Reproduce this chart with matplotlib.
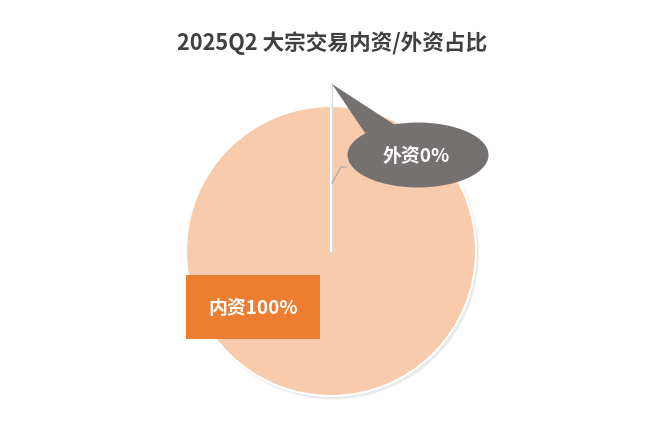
import matplotlib
matplotlib.use("Agg")
import matplotlib.pyplot as plt
from matplotlib.patches import Ellipse, Polygon, Rectangle, Circle

plt.rcParams['font.family'] = ['Noto Sans CJK SC', 'DejaVu Sans']

title = "2025Q2 大宗交易内资/外资占比"
labels = ["内资", "外资"]
shares = [100, 0]
colors = ["#F8CBAD", "#767171"]

fig = plt.figure(figsize=(6.6, 4.26), dpi=100)
ax = fig.add_axes([0, 0, 1, 1])

cx, cy, r = 331, 175, 145

# soft shadow under the pie
for i, a in enumerate([0.05, 0.05, 0.07]):
    ax.add_patch(Circle((cx + 2, cy - 2.5), r + 1.5 - i * 0.7, color="#7f7f7f",
                        alpha=a, zorder=1, lw=0))

wedges, _ = ax.pie(shares, colors=colors, center=(cx, cy), radius=r,
                   startangle=90, counterclock=False, frame=True,
                   wedgeprops=dict(edgecolor="white", linewidth=1.5))
for w in wedges:
    w.set_zorder(2)
ax.set_xlim(0, 660)
ax.set_ylim(0, 426)
ax.set_aspect("auto")
ax.axis("off")

# zero slice edge, pulled out above the pie
ax.plot([cx, cx], [cy, 426 - 84], color="#d9d9d9", lw=2.2, zorder=2.5)
ax.plot([cx, cx], [cy, 426 - 84], color="white", lw=1.4, zorder=2.6)

# callout for the 0% slice
ax.plot([346, 341, 332], [426 - 167, 426 - 167, 426 - 183], color="#a6a6a6",
        lw=0.8, zorder=3)
ax.add_patch(Ellipse((418, 426 - 155), 141, 65, color=colors[1], zorder=4, lw=0))
ax.add_patch(Polygon([(332, 426 - 84), (365, 426 - 133), (395, 426 - 125)],
                     closed=True, color=colors[1], zorder=4, lw=0))
ax.text(416, 426 - 157, f"{labels[1]}{shares[1]}%", color="white", fontsize=13.6,
        fontweight="bold", ha="center", va="center", zorder=5)

# label box for the 100% slice
ax.add_patch(Rectangle((186, 426 - 339), 134, 64, color="#ED7D31", zorder=4, lw=0))
ax.text(253, 426 - 308, f"{labels[0]}{shares[0]}%", color="white", fontsize=13.6,
        fontweight="bold", ha="center", va="center", zorder=5)

ax.text(332, 426 - 43, title, color="#404040", fontsize=15.6, fontweight="bold",
        ha="center", va="center")

fig.savefig("out.png", dpi=100)
